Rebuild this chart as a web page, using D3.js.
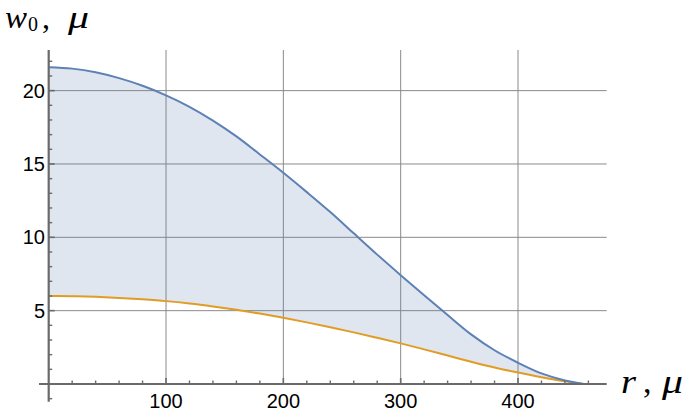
<!DOCTYPE html>
<html><head><meta charset="utf-8">
<script src="https://cdn.jsdelivr.net/npm/d3@7"></script>
<style>
html,body{margin:0;padding:0;background:#fff;}
svg{display:block;}
</style></head>
<body>
<svg id="c" width="690" height="417"></svg>
<script>
// data
const rValues = [0,20,40,60,80,100,120,140,160,180,200,220,240,260,280,300,320,340,360,380,400,420,440,450,456];
const upperW  = [21.6,21.5,21.25,20.85,20.33,19.68,18.9,17.96,16.88,15.65,14.4,13.08,11.72,10.27,8.82,7.42,6.05,4.7,3.38,2.3,1.45,0.72,0.24,0.08,0.0];
const lowerW  = [6.0,5.98,5.94,5.87,5.77,5.65,5.49,5.29,5.06,4.8,4.51,4.2,3.87,3.52,3.15,2.77,2.36,1.94,1.52,1.13,0.78,0.46,0.18,0.06,0.0];
const xMajorTicks = [100,200,300,400];
const yMajorTicks = [5,10,15,20];
const xLabel = ["r", ",", "μ"];
const yLabel = ["w", "0", ",", "μ"];

const svg = d3.select("#c");
const x = d3.scaleLinear().domain([0, 475.6]).range([48.7, 606.7]);
const y = d3.scaleLinear().domain([0, 22.77]).range([384, 50]);

const blue = "#5E81B5", orange = "#E19C24";
const gridCol = "#8a8a8a", axisCol = "#6a6a6a";

const pts = rValues.map((r,i)=>({r, u: upperW[i], l: lowerW[i]}));

// gridlines
const g = svg.append("g");
xMajorTicks.forEach(t=>{
  g.append("line").attr("x1",x(t)).attr("x2",x(t)).attr("y1",y(22.77)).attr("y2",y(0))
   .attr("stroke",gridCol).attr("stroke-width",1);
});
yMajorTicks.forEach(t=>{
  g.append("line").attr("x1",x(0)).attr("x2",x(475.6)).attr("y1",y(t)).attr("y2",y(t))
   .attr("stroke",gridCol).attr("stroke-width",1);
});

// filling
const area = d3.area().x(d=>x(d.r)).y0(d=>y(d.l)).y1(d=>y(d.u)).curve(d3.curveMonotoneX);
svg.append("path").datum(pts).attr("d",area).attr("fill",blue).attr("fill-opacity",0.2);

// lines
const lineU = d3.line().x(d=>x(d.r)).y(d=>y(d.u)).curve(d3.curveMonotoneX);
const lineL = d3.line().x(d=>x(d.r)).y(d=>y(d.l)).curve(d3.curveMonotoneX);
svg.append("path").datum(pts).attr("d",lineL).attr("fill","none").attr("stroke",orange).attr("stroke-width",2);
svg.append("path").datum(pts).attr("d",lineU).attr("fill","none").attr("stroke",blue).attr("stroke-width",2);

// axes
const ax = svg.append("g");
ax.append("line").attr("x1",39).attr("x2",x(475.6)).attr("y1",y(0)).attr("y2",y(0))
  .attr("stroke",axisCol).attr("stroke-width",2.2);
ax.append("line").attr("x1",x(0)).attr("x2",x(0)).attr("y1",y(22.77)).attr("y2",401.7)
  .attr("stroke",axisCol).attr("stroke-width",2.2);

// x ticks
d3.range(20, 461, 20).forEach(t=>{
  const major = t % 100 === 0;
  ax.append("line").attr("x1",x(t)).attr("x2",x(t)).attr("y1",y(0)).attr("y2",y(0)-(major?6:3.5))
    .attr("stroke",axisCol).attr("stroke-width",major?1.6:1.4);
});
// y ticks
d3.range(-1, 23, 1).forEach(t=>{
  if (t===0) return;
  const major = t % 5 === 0;
  ax.append("line").attr("x1",x(0)).attr("x2",x(0)+(major?6:3.5)).attr("y1",y(t)).attr("y2",y(t))
    .attr("stroke",axisCol).attr("stroke-width",major?1.6:1.4);
});

// tick labels
const lab = svg.append("g").attr("font-family","'Liberation Sans', Arial, sans-serif").attr("font-size",20).attr("fill","#000");
xMajorTicks.forEach(t=>{
  lab.append("text").attr("x",x(t)).attr("y",407.5).attr("text-anchor","middle").text(t);
});
yMajorTicks.forEach(t=>{
  lab.append("text").attr("x",45).attr("y",y(t)+7).attr("text-anchor","end").text(t);
});

// axis titles
const serif = "'Liberation Serif', 'Times New Roman', serif";
const yt = svg.append("text").attr("font-family",serif).attr("font-size",32).attr("fill","#000");
yt.append("tspan").attr("x",5).attr("y",28).attr("font-style","italic")
  .attr("textLength",22).attr("lengthAdjust","spacingAndGlyphs").text(yLabel[0]);
yt.append("tspan").attr("x",28).attr("y",31).attr("font-size",20).text(yLabel[1]);
yt.append("tspan").attr("x",42).attr("y",28).text(yLabel[2]);
yt.append("tspan").attr("x",68).attr("y",28).attr("font-style","italic")
  .attr("textLength",21).attr("lengthAdjust","spacingAndGlyphs").text(yLabel[3]);

const xt = svg.append("text").attr("font-family",serif).attr("font-size",34).attr("fill","#000");
xt.append("tspan").attr("x",621).attr("y",393).attr("font-style","italic")
  .attr("textLength",15).attr("lengthAdjust","spacingAndGlyphs").text(xLabel[0]);
xt.append("tspan").attr("x",643).attr("y",393).text(xLabel[1]);
xt.append("tspan").attr("x",662).attr("y",393).attr("font-style","italic")
  .attr("textLength",21).attr("lengthAdjust","spacingAndGlyphs").text(xLabel[2]);
</script>
</body></html>
